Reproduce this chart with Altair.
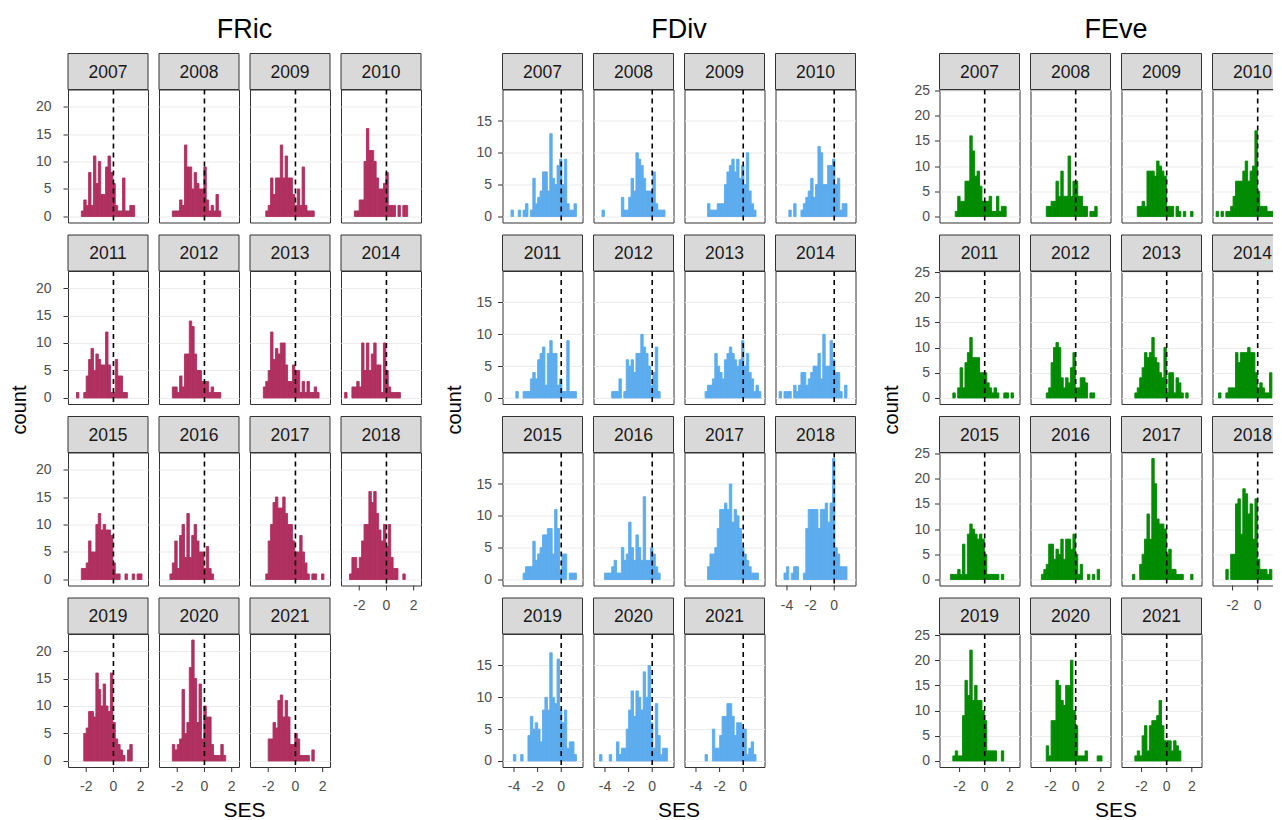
import altair as alt
import pandas as pd

YEARS = [str(y) for y in range(2007, 2022)]
BOTTOM_YEARS = ["2018", "2019", "2020", "2021"]   # lowest panel of each column

# bin layout of each histogram group (30 bins): first edge and width
FRIC_START, FRIC_WIDTH = -3.07, 0.178
FDIV_START, FDIV_WIDTH = -4.663, 0.2052
FEVE_START, FEVE_WIDTH = -3.31, 0.1931

FRIC_XTICKS = [-2, 0, 2]
FDIV_XTICKS = [-4, -2, 0]
FEVE_XTICKS = [-2, 0, 2]
FRIC_YTICKS = [0, 5, 10, 15, 20]
FDIV_YTICKS = [0, 5, 10, 15]
FEVE_YTICKS = [0, 5, 10, 15, 20, 25]

# ---- FRic counts per bin, one list per year ----
FRIC_2007 = [0,0,0,0,1,3,2,8,2,11,6,10,4,4,9,11,8,6,2,1,1,7,1,1,2,2,0,0,0,0]
FRIC_2008 = [0,0,0,0,1,1,1,3,2,13,9,9,5,8,6,5,5,9,3,1,2,1,4,1,0,0,0,0,0,0]
FRIC_2009 = [0,0,0,0,0,1,2,7,4,7,7,13,7,11,7,7,4,2,5,2,9,2,1,1,1,0,0,0,0,0]
FRIC_2010 = [0,0,0,0,1,1,3,3,10,16,12,12,10,7,5,5,6,8,2,2,2,0,2,0,2,2,0,0,0,0]
FRIC_2011 = [0,0,1,0,0,1,4,7,9,5,8,7,6,6,12,6,1,1,7,4,4,1,1,0,0,0,0,0,0,0]
FRIC_2012 = [0,0,0,0,2,2,1,4,2,8,8,14,13,8,5,5,3,3,3,1,2,1,1,1,0,0,0,0,0,0]
FRIC_2013 = [0,0,0,0,2,3,5,12,7,9,8,10,10,6,3,3,6,5,5,1,3,1,3,1,1,2,1,0,0,0]
FRIC_2014 = [1,0,0,2,2,3,2,10,5,10,5,8,10,6,6,1,10,5,2,1,1,1,1,0,0,0,0,0,0,0]
FRIC_2015 = [0,0,0,0,2,2,3,7,5,5,10,12,9,10,9,9,8,3,1,1,0,0,1,0,0,1,0,1,1,0]
FRIC_2016 = [0,0,0,1,3,7,2,8,10,4,12,4,8,10,7,5,5,2,6,2,1,0,0,0,0,0,0,0,0,0]
FRIC_2017 = [0,0,0,0,0,1,7,10,14,15,13,13,15,12,10,10,7,5,5,8,5,3,1,0,1,1,0,0,1,0]
FRIC_2018 = [0,0,1,4,4,2,4,7,10,10,16,14,16,12,9,7,10,6,10,4,2,2,0,0,1,0,0,0,0,0]
FRIC_2019 = [0,0,0,0,0,5,6,9,9,8,16,13,10,14,10,9,16,7,4,3,2,1,0,2,3,0,0,0,0,0]
FRIC_2020 = [0,0,0,0,3,2,3,4,13,5,7,17,22,15,7,14,4,10,8,8,3,1,1,1,3,1,0,0,0,0]
FRIC_2021 = [0,0,0,0,0,0,4,4,7,6,11,12,8,11,8,3,3,5,4,1,1,1,1,0,2,0,0,0,0,0]

# ---- FDiv ----
FDIV_2007 = [0,0,1,0,0,1,0,1,2,0,1,6,2,3,4,7,7,4,13,6,5,8,9,5,9,2,1,1,2,0]
FDIV_2008 = [0,0,1,0,0,0,0,0,0,0,3,1,1,3,6,4,10,9,8,6,4,4,4,7,2,1,1,1,0,0]
FDIV_2009 = [0,0,0,0,0,0,0,0,2,1,1,1,2,2,2,5,7,8,9,7,9,6,8,5,10,4,2,1,0,0]
FDIV_2010 = [0,0,0,0,1,0,2,0,0,1,2,3,4,6,3,5,11,10,5,5,8,8,9,5,6,1,2,2,0,0]
FDIV_2011 = [0,0,0,0,1,0,0,1,1,1,3,4,3,6,7,8,2,7,9,7,7,2,3,1,1,9,1,1,1,0]
FDIV_2012 = [0,0,0,0,0,0,1,1,1,3,0,1,6,5,6,4,7,7,10,8,7,5,2,4,8,1,0,0,0,0]
FDIV_2013 = [0,0,0,0,0,0,0,1,2,2,3,7,5,4,3,6,7,8,7,6,5,6,9,5,7,4,3,1,2,1]
FDIV_2014 = [1,0,1,1,1,0,2,1,2,4,4,2,3,4,5,5,7,3,10,5,5,9,6,4,4,1,0,2,0,0]
FDIV_2015 = [0,0,0,0,0,0,0,1,2,2,2,6,3,4,5,7,7,8,8,4,11,8,1,4,4,0,1,1,1,0]
FDIV_2016 = [0,0,0,1,1,1,2,3,1,1,5,3,4,9,5,3,7,5,3,13,3,3,5,4,2,1,0,0,0,0]
FDIV_2017 = [0,0,0,0,0,0,0,0,2,4,4,5,8,11,11,12,11,15,9,11,10,8,5,4,3,2,1,1,1,0]
FDIV_2018 = [0,0,1,2,0,1,2,2,0,0,1,8,11,11,11,11,8,11,11,12,9,12,19,5,4,2,2,2,0,0]
FDIV_2019 = [0,0,0,1,0,0,1,0,0,4,7,5,6,5,3,8,10,8,17,10,9,16,8,6,8,2,3,3,1,0]
FDIV_2020 = [0,1,0,0,0,1,0,0,3,1,2,2,5,8,11,7,11,10,8,14,10,15,6,2,9,4,1,2,2,0]
FDIV_2021 = [0,0,0,0,0,0,0,1,0,0,5,2,2,4,7,7,9,9,7,4,6,6,5,5,1,2,3,1,0,0]

# ---- FEve ----
FEVE_2007 = [0,0,0,0,0,1,4,3,3,7,7,16,13,8,9,6,3,3,3,4,1,1,4,1,2,2,0,0,0,0]
FEVE_2008 = [0,0,0,0,0,2,2,3,3,7,4,9,4,4,12,4,7,7,4,4,2,2,0,1,1,2,0,0,0,0]
FEVE_2009 = [0,0,0,0,0,2,2,3,2,9,9,9,8,11,10,9,8,2,2,2,0,2,1,0,1,0,0,1,0,0]
FEVE_2010 = [1,0,1,0,1,1,2,4,7,7,7,9,11,7,9,10,17,5,2,2,2,1,1,1,1,1,0,0,0,0]
FEVE_2011 = [0,0,0,0,1,0,2,6,2,7,9,12,8,8,8,5,5,5,3,2,1,2,1,0,0,1,1,0,1,0]
FEVE_2012 = [0,0,0,0,0,1,2,7,10,11,10,4,2,4,3,6,9,2,2,4,4,3,0,1,1,0,0,0,0,0]
FEVE_2013 = [0,0,0,0,1,2,4,6,9,8,9,12,8,7,5,4,10,1,5,5,1,4,3,1,0,1,0,0,0,0]
FEVE_2014 = [0,1,0,0,1,2,2,2,9,7,9,9,9,10,9,9,5,2,3,2,1,1,5,0,1,1,0,0,0,0]
FEVE_2015 = [0,0,0,1,1,1,2,1,7,1,9,11,10,9,8,9,8,5,1,1,1,1,1,0,1,0,0,0,0,0]
FEVE_2016 = [0,0,0,1,2,3,7,7,4,6,5,8,4,8,8,6,9,5,1,3,0,0,1,0,1,0,2,0,0,0]
FEVE_2017 = [0,0,0,1,0,0,3,5,8,13,8,24,19,12,11,11,10,5,6,2,2,1,1,1,0,0,0,1,0,0]
FEVE_2018 = [0,0,0,0,2,0,5,5,15,16,9,18,17,13,15,8,16,4,2,2,2,1,2,0,0,0,0,0,0,0]
FEVE_2019 = [0,0,0,0,1,2,1,1,9,16,13,22,12,15,12,12,10,8,2,2,2,2,0,0,2,0,0,0,0,0]
FEVE_2020 = [0,0,0,0,0,3,1,8,8,16,15,12,11,15,15,20,10,7,1,1,1,2,0,0,0,0,1,1,0,0]
FEVE_2021 = [0,0,0,0,1,2,1,5,7,2,7,8,8,9,12,7,4,4,4,2,4,3,2,0,0,0,0,0,0,0]

FRIC = [FRIC_2007, FRIC_2008, FRIC_2009, FRIC_2010, FRIC_2011, FRIC_2012, FRIC_2013,
        FRIC_2014, FRIC_2015, FRIC_2016, FRIC_2017, FRIC_2018, FRIC_2019, FRIC_2020, FRIC_2021]
FDIV = [FDIV_2007, FDIV_2008, FDIV_2009, FDIV_2010, FDIV_2011, FDIV_2012, FDIV_2013,
        FDIV_2014, FDIV_2015, FDIV_2016, FDIV_2017, FDIV_2018, FDIV_2019, FDIV_2020, FDIV_2021]
FEVE = [FEVE_2007, FEVE_2008, FEVE_2009, FEVE_2010, FEVE_2011, FEVE_2012, FEVE_2013,
        FEVE_2014, FEVE_2015, FEVE_2016, FEVE_2017, FEVE_2018, FEVE_2019, FEVE_2020, FEVE_2021]

FONT = "Liberation Sans"
PW, PH = 80, 133


def make_df(series, start, width, xticks):
    rows = []
    for year, counts in zip(YEARS, series):
        for k, c in enumerate(counts):
            rows.append({"kind": "bin", "year": year, "bin": k, "x0": start + k * width,
                         "x1": start + (k + 1) * width, "count": c})
        for t in xticks:
            rows.append({"kind": "tick", "year": year, "tick": t, "ticklab": str(t)})
    return pd.DataFrame(rows)


def group(series, start, width, title, color, xticks, yticks, ymax, ylabpad):
    df = make_df(series, start, width, xticks)
    lo, hi = start, start + 30 * width
    pad = 0.05 * (hi - lo)
    xdom = [lo - pad, hi + pad]
    ydom = [-0.05 * ymax, ymax * 1.05]
    xscale = alt.Scale(domain=xdom, nice=False, zero=False)
    yscale = alt.Scale(domain=ydom, nice=False, zero=False)

    bars = alt.Chart().mark_rect(color=color, stroke=color, strokeWidth=0.9).encode(
        x=alt.X("x0:Q", scale=xscale, axis=None),
        x2="x1:Q",
        y=alt.Y("count:Q", scale=yscale,
                axis=alt.Axis(values=yticks, title=None, labelPadding=ylabpad)),
        y2=alt.datum(0),
    ).transform_filter("datum.kind == 'bin' && datum.count > 0")

    one = "datum.kind == 'bin' && datum.bin == 0"
    rule = alt.Chart().mark_rule(color="black", strokeDash=[5, 4], strokeWidth=1.6).encode(
        x=alt.XDatum(0), y=alt.value(0), y2=alt.value(PH)
    ).transform_filter(one)

    bottom = "datum.kind == 'tick' && indexof(%s, datum.year) >= 0" % str(BOTTOM_YEARS)
    xtick_marks = alt.Chart().mark_rule(color="#333333", strokeWidth=1).encode(
        x="tick:Q", y=alt.value(PH), y2=alt.value(PH + 5)
    ).transform_filter(bottom)
    xtick_labels = alt.Chart().mark_text(fontSize=14, color="#4D4D4D", baseline="middle").encode(
        x="tick:Q", y=alt.value(PH + 20), text="ticklab:N"
    ).transform_filter(bottom)

    strip = alt.Chart().mark_rect(fill="#D9D9D9", stroke="#333333", strokeWidth=1).encode(
        x=alt.value(0), x2=alt.value(PW), y=alt.value(-36), y2=alt.value(0)
    ).transform_filter(one)

    strip_text = alt.Chart().mark_text(fontSize=17.5, color="#1A1A1A", baseline="middle").encode(
        x=alt.value(PW / 2), y=alt.value(-17), text="year:N"
    ).transform_filter(one)

    title_t = alt.Chart().mark_text(text=title, fontSize=27, color="black", baseline="middle").encode(
        x=alt.value(PW + 5.5), y=alt.value(-60)
    ).transform_filter(one + " && datum.year == '2008'")

    count_t = alt.Chart().mark_text(text="count", fontSize=20, color="black", angle=270,
                                    baseline="middle").encode(
        x=alt.value(-48), y=alt.value(139)
    ).transform_filter(one + " && datum.year == '2011'")

    ses_t = alt.Chart().mark_text(text="SES", fontSize=21, color="black", baseline="middle").encode(
        x=alt.value(PW + 5.5), y=alt.value(177)
    ).transform_filter(one + " && datum.year == '2020'")

    layered = alt.layer(bars, rule, xtick_marks, xtick_labels, strip, strip_text,
                        title_t, count_t, ses_t, data=df).properties(width=PW, height=PH)
    return layered.facet(
        facet=alt.Facet("year:N", title=None,
                        header=alt.Header(labels=False, labelExpr="''", labelFontSize=1,
                                          labelPadding=0, title=None)),
        columns=4,
        spacing={"row": 48.5, "column": 11},
        bounds="flush",
    )


fric = group(FRIC, FRIC_START, FRIC_WIDTH, "FRic", "#B03060", FRIC_XTICKS, FRIC_YTICKS, 22, 12)
fdiv = group(FDIV, FDIV_START, FDIV_WIDTH, "FDiv", "#5CACEE", FDIV_XTICKS, FDIV_YTICKS, 19, 6)
feve = group(FEVE, FEVE_START, FEVE_WIDTH, "FEve", "#008B00", FEVE_XTICKS, FEVE_YTICKS, 24, 5)

left_pair = alt.hconcat(fric, fdiv, spacing=21.5)
chart = alt.hconcat(left_pair, feve, spacing=23.5).configure(
    font=FONT, padding={"left": 1, "top": 5.5, "right": -21, "bottom": 0}
).configure_view(
    stroke="#333333", strokeWidth=1
).configure_axis(
    domain=False, tickColor="#333333", tickSize=5, tickWidth=1,
    labelColor="#4D4D4D", labelFontSize=14, labelFont=FONT,
    gridColor="#EBEBEB", gridWidth=1.2
).configure_header(
    labels=False, labelFontSize=1, labelPadding=0, titleFontSize=1, titlePadding=0
)

chart.save("out.html", embed_options={"renderer": "svg", "actions": False})
